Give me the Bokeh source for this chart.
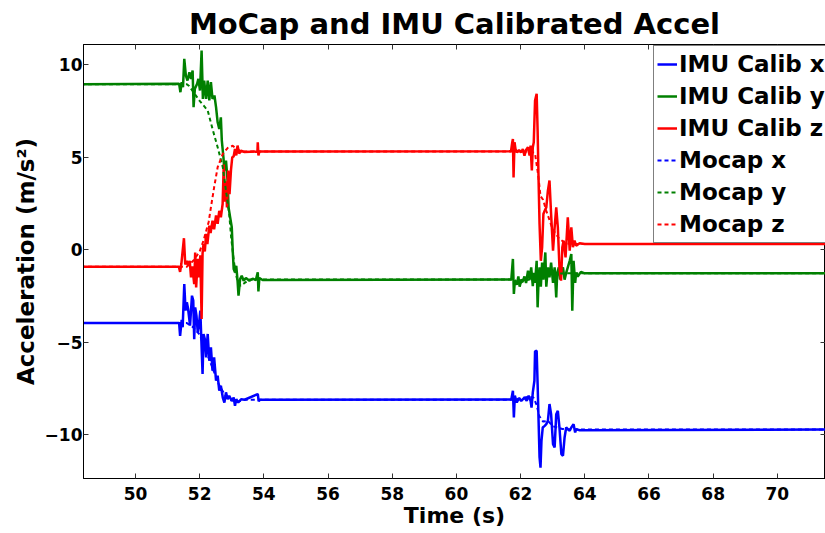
from bokeh.plotting import figure
from bokeh.models import Range1d, FixedTicker, LinearAxis, Legend, LegendItem
from bokeh.embed import file_html
from bokeh.resources import INLINE

FONT = "DejaVu Sans"

# (time [s], acceleration [m/s^2]) samples for each channel
imu_x = [
    (48.3, -3.97), (51.36, -3.97), (51.39, -4.66), (51.44, -3.80), (51.47, -4.20),
    (51.52, -1.86), (51.56, -3.30), (51.60, -2.85), (51.64, -3.21), (51.70, -4.11),
    (51.76, -2.49), (51.80, -2.76), (51.83, -4.84), (51.86, -3.12), (51.90, -3.57),
    (51.94, -4.48), (51.98, -4.02), (52.02, -3.30), (52.06, -5.29), (52.09, -6.73),
    (52.12, -4.56), (52.16, -4.84), (52.20, -5.83), (52.25, -4.56), (52.30, -6.01),
    (52.35, -5.29), (52.40, -6.55), (52.45, -5.83), (52.51, -7.09), (52.56, -6.82),
    (52.61, -7.63), (52.66, -7.36), (52.72, -8.00), (52.77, -8.27), (52.82, -7.72),
    (52.87, -8.09), (52.92, -7.90), (53.00, -8.18), (53.06, -8.00), (53.10, -8.45),
    (53.14, -8.09), (53.20, -8.27), (53.29, -8.09), (53.40, -8.12), (53.81, -7.81),
    (53.84, -8.20), (53.88, -8.12), (61.71, -8.10), (61.76, -7.63), (61.79, -9.08),
    (61.82, -7.90), (61.88, -8.27), (61.95, -8.03), (62.02, -8.18), (62.12, -8.00),
    (62.19, -8.18), (62.25, -7.90), (62.31, -8.18), (62.34, -8.54), (62.38, -7.72),
    (62.43, -7.09), (62.45, -5.50), (62.50, -5.47), (62.53, -7.27), (62.56, -9.26),
    (62.59, -11.23), (62.62, -11.79), (62.65, -10.34), (62.69, -9.62), (62.75, -9.53),
    (62.80, -9.44), (62.85, -9.26), (62.90, -8.35), (62.95, -8.90), (63.01, -10.52),
    (63.06, -10.70), (63.11, -8.90), (63.16, -8.72), (63.21, -9.62), (63.27, -11.06),
    (63.32, -11.15), (63.37, -10.16), (63.42, -9.62), (63.47, -9.71), (63.53, -9.80),
    (63.58, -9.62), (63.65, -9.44), (63.70, -9.89), (63.73, -9.71), (63.84, -9.77),
    (71.6, -9.73),
]

imu_y = [
    (48.3, 8.95), (51.36, 8.97), (51.40, 8.52), (51.44, 9.06), (51.48, 8.79),
    (51.52, 10.32), (51.57, 9.42), (51.62, 9.15), (51.68, 9.60), (51.73, 9.24),
    (51.78, 9.69), (51.81, 7.71), (51.85, 8.70), (51.92, 8.97), (51.96, 9.24),
    (52.01, 8.61), (52.06, 10.77), (52.10, 8.16), (52.14, 9.15), (52.20, 8.16),
    (52.25, 9.15), (52.30, 8.07), (52.35, 9.06), (52.40, 8.16), (52.46, 8.34),
    (52.51, 7.71), (52.56, 6.89), (52.61, 6.53), (52.66, 7.16), (52.69, 5.90),
    (52.74, 5.00), (52.77, 4.28), (52.82, 4.82), (52.87, 3.74), (52.90, 2.29),
    (52.95, 1.75), (53.00, 1.21), (53.03, -0.05), (53.06, -1.05), (53.10, -1.23),
    (53.14, -0.87), (53.18, -1.68), (53.21, -2.49), (53.26, -1.59), (53.31, -1.41),
    (53.37, -1.68), (53.44, -1.53), (53.55, -1.68), (53.65, -1.57), (53.75, -1.64),
    (53.81, -1.23), (53.83, -2.26), (53.86, -1.53), (53.96, -1.64), (61.71, -1.62),
    (61.76, -0.50), (61.79, -2.40), (61.82, -1.70), (61.88, -1.90), (61.93, -1.45),
    (61.97, -2.00), (62.02, -1.62), (62.07, -1.70), (62.12, -1.45), (62.17, -1.80),
    (62.23, -1.14), (62.28, -1.62), (62.33, -0.96), (62.38, -1.98), (62.41, -1.26),
    (62.45, -1.80), (62.50, -0.60), (62.53, -3.12), (62.56, -1.62), (62.59, -0.96),
    (62.63, -2.00), (62.67, -0.70), (62.71, -1.62), (62.77, -0.15), (62.80, -2.00),
    (62.85, -0.96), (62.90, -1.50), (62.95, -0.70), (63.01, -1.80), (63.06, -0.96),
    (63.11, -2.58), (63.14, -1.26), (63.19, -0.96), (63.23, -1.62), (63.27, -1.10),
    (63.32, -0.96), (63.37, -1.62), (63.42, -1.26), (63.47, -0.96), (63.53, -0.60),
    (63.58, -0.23), (63.61, -3.30), (63.65, -0.60), (63.70, -1.80), (63.73, -1.26),
    (63.78, -1.45), (63.88, -1.20), (64.00, -1.28), (71.6, -1.28),
]

imu_z = [
    (48.3, -0.92), (51.35, -0.92), (51.39, -1.20), (51.43, -0.75), (51.51, 0.62),
    (51.55, -0.80), (51.60, -0.60), (51.645, -0.87), (51.69, -0.60), (51.73, -1.50),
    (51.77, -0.90), (51.83, -1.86), (51.86, -0.15), (51.89, -2.04), (51.94, -0.50),
    (51.98, -1.50), (52.02, -0.30), (52.06, -3.75), (52.09, -0.20), (52.12, 0.31),
    (52.16, -0.10), (52.20, 0.85), (52.24, 0.30), (52.30, 1.30), (52.34, 0.90),
    (52.40, 1.57), (52.45, 1.10), (52.51, 1.85), (52.56, 1.40), (52.61, 2.10),
    (52.66, 1.75), (52.715, 2.47), (52.75, 4.60), (52.79, 2.60), (52.82, 3.70),
    (52.85, 2.29), (52.89, 4.28), (52.93, 3.00), (52.975, 4.30), (53.015, 5.00),
    (53.06, 5.05), (53.10, 5.45), (53.14, 5.10), (53.18, 5.63), (53.23, 5.20),
    (53.29, 5.35), (53.40, 5.28), (53.80, 5.31), (53.81, 5.81), (53.83, 5.10),
    (53.86, 5.31), (61.70, 5.32), (61.74, 5.81), (61.76, 5.99), (61.78, 3.91),
    (61.81, 5.81), (61.84, 5.45), (61.88, 5.27), (61.95, 5.39), (62.02, 5.27),
    (62.07, 5.45), (62.12, 5.09), (62.17, 5.39), (62.23, 5.54), (62.28, 5.09),
    (62.31, 5.63), (62.35, 4.28), (62.38, 5.54), (62.41, 5.81), (62.45, 8.07),
    (62.50, 8.43), (62.53, 6.44), (62.56, 3.74), (62.59, 1.39), (62.63, -0.60),
    (62.67, 0.13), (62.71, 1.93), (62.75, 2.11), (62.80, 2.29), (62.85, 3.19),
    (62.90, 3.74), (62.95, 1.93), (63.01, -0.05), (63.06, 1.21), (63.11, 2.29),
    (63.16, 1.21), (63.21, -0.96), (63.26, -1.68), (63.30, 0.13), (63.34, 0.49),
    (63.40, -0.42), (63.47, 1.75), (63.53, -0.05), (63.58, 1.21), (63.63, 0.13),
    (63.68, 0.49), (63.73, 0.22), (63.84, 0.35), (64.00, 0.31), (71.6, 0.31),
]

mocap_x = [
    (48.3, -3.97), (51.60, -3.97), (51.80, -4.20), (52.00, -4.60), (52.20, -5.50),
    (52.40, -6.40), (52.60, -7.30), (52.80, -7.90), (53.00, -8.15), (53.20, -8.22),
    (53.40, -8.12), (61.80, -8.12), (62.00, -8.05), (62.25, -7.95), (62.40, -8.00),
    (62.50, -8.40), (62.58, -9.00), (62.70, -9.30), (62.85, -9.26), (63.00, -9.55),
    (63.30, -9.70), (63.60, -9.73), (71.6, -9.73),
]

mocap_y = [
    (48.3, 8.95), (51.60, 8.95), (51.67, 8.85), (52.00, 8.05), (52.25, 7.53),
    (52.40, 6.53), (52.56, 5.54), (52.72, 4.46), (52.82, 3.19), (52.92, 1.93),
    (52.98, 0.67), (53.05, -0.40), (53.12, -1.30), (53.20, -1.80), (53.28, -1.95),
    (53.40, -1.80), (53.55, -1.62), (61.80, -1.62), (61.95, -1.85), (62.10, -1.70),
    (62.40, -1.55), (62.60, -1.35), (63.00, -1.30), (63.50, -1.28), (71.6, -1.28),
]

mocap_z = [
    (48.3, -0.92), (51.60, -0.92), (51.80, -0.60), (52.00, -0.10), (52.12, 0.50),
    (52.20, 1.00), (52.28, 1.50), (52.35, 2.29), (52.45, 3.37), (52.56, 4.46),
    (52.72, 5.18), (52.87, 5.50), (53.03, 5.62), (53.15, 5.45), (53.30, 5.31),
    (62.35, 5.31), (62.45, 5.20), (62.55, 4.00), (62.62, 2.90), (62.70, 2.70),
    (62.80, 2.10), (62.90, 1.60), (63.00, 1.10), (63.20, 0.60), (63.40, 0.35),
    (63.60, 0.31), (71.6, 0.31),
]

series_labels = ["IMU Calib x", "IMU Calib y", "IMU Calib z", "Mocap x", "Mocap y", "Mocap z"]

x_ticks = [50, 52, 54, 56, 58, 60, 62, 64, 66, 68, 70]
y_ticks = [-10, -5, 0, 5, 10]
y_tick_labels = ["\u221210", "\u22125", "0", "5", "10"]

p = figure(
    width=825, height=533,
    output_backend="svg", toolbar_location=None,
    x_range=Range1d(48.38, 71.5), y_range=Range1d(-12.38, 11.1),
    min_border_left=83, min_border_right=0, min_border_top=44, min_border_bottom=55,
    x_axis_label="Time (s)", y_axis_label="Acceleration (m/s\u00b2)",
)

p.title.text = "MoCap and IMU Calibrated Accel"
p.title.text_font = FONT
p.title.text_font_style = "bold"
p.title.text_font_size = "29px"
p.title.text_color = "black"
p.title.align = "center"
p.title.offset = 5
p.title.standoff = 8

p.xgrid.visible = False
p.ygrid.visible = False
p.outline_line_color = "black"
p.outline_line_width = 1
p.background_fill_color = "white"
p.border_fill_color = "white"

colors = ["#0000ff", "#008000", "#ff0000"]
renderers = []
for data, c in zip([imu_x, imu_y, imu_z], colors):
    t, v = zip(*data)
    renderers.append(p.line(list(t), list(v), line_color=c, line_width=2.5))
for data, c in zip([mocap_x, mocap_y, mocap_z], colors):
    t, v = zip(*data)
    renderers.append(p.line(list(t), list(v), line_color=c, line_width=2, line_dash="4 3"))


def style_axis(ax, ticks, labels=True):
    ax.ticker = FixedTicker(ticks=ticks)
    ax.major_tick_in = 5
    ax.major_tick_out = 0
    ax.minor_tick_line_color = None
    ax.major_tick_line_color = "#333333"
    ax.axis_line_color = "black"
    ax.major_label_text_font = FONT
    ax.major_label_text_font_style = "bold"
    ax.major_label_text_color = "black"
    ax.axis_label_text_font = FONT
    ax.axis_label_text_font_style = "bold"
    ax.axis_label_text_color = "black"
    ax.axis_label_text_font_size = "22px"
    ax.major_label_text_font_size = "17px"
    if not labels:
        # tick marks only: labels are switched off entirely
        ax.major_label_text_color = None
        ax.major_label_standoff = 0


xaxis = p.xaxis[0]
yaxis = p.yaxis[0]
style_axis(xaxis, x_ticks)
style_axis(yaxis, y_ticks)
xaxis.major_label_standoff = 8
xaxis.axis_label_standoff = 0
yaxis.major_label_standoff = 1
yaxis.axis_label_standoff = 3
yaxis.axis_label_text_font_size = "23px"
yaxis.major_label_overrides = dict(zip(y_ticks, y_tick_labels))

top_axis = LinearAxis()
style_axis(top_axis, x_ticks, labels=False)
p.add_layout(top_axis, "above")
right_axis = LinearAxis()
style_axis(right_axis, y_ticks, labels=False)
p.add_layout(right_axis, "right")

legend = Legend(
    items=[LegendItem(label=lab, renderers=[r]) for lab, r in zip(series_labels, renderers)],
    location=(570, 235),
    margin=0, padding=3, spacing=2,
    glyph_width=20, glyph_height=30, label_height=30, label_standoff=2,
    label_text_font=FONT, label_text_font_style="bold", label_text_font_size="23px",
    label_text_color="black",
    border_line_color="black", border_line_width=1,
    background_fill_color="white", background_fill_alpha=1.0,
)
p.add_layout(legend)

open("out.html", "w").write(file_html(p, INLINE))
